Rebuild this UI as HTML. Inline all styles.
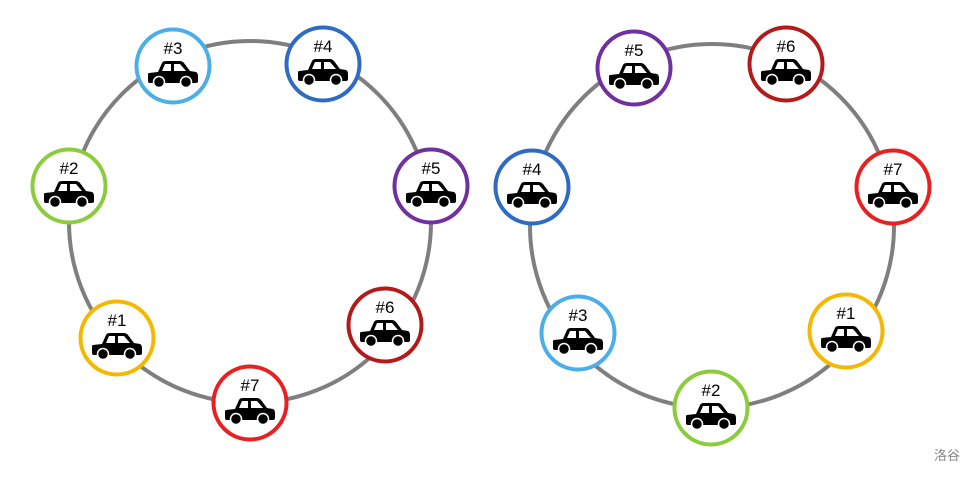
<!DOCTYPE html>
<html><head><meta charset="utf-8"><style>
html,body{margin:0;padding:0;background:#fff;}
svg{display:block;}
text{font-family:"Liberation Sans","Noto Sans CJK SC",sans-serif;}
</style></head><body>
<svg width="977" height="477" viewBox="0 0 977 477" xmlns="http://www.w3.org/2000/svg">
<defs>
<g id="car">
<path d="M2,12 L11,11 L15,2 Q16,0 19,0 L33,0 Q35,0 37,2 L43,10 L49,11 Q51,12 51,15 L51,20 Q51,22 49,22 L3,22 Q1,22 1,20 L1,14 Q1,12 2,12 Z" fill="#000"/>
<path d="M18,3 L24,3 L24,10 L15,10 Z" fill="#fff"/>
<path d="M27,3 L33,3 L39,10 L27,10 Z" fill="#fff"/>
<circle cx="12" cy="21" r="5.5" fill="#000" stroke="#fff" stroke-width="1.5"/>
<circle cx="39" cy="21" r="5.5" fill="#000" stroke="#fff" stroke-width="1.5"/>
</g>
</defs>
<circle cx="250" cy="222" r="181" fill="none" stroke="#7f7f7f" stroke-width="4"/>
<circle cx="712" cy="226" r="182" fill="none" stroke="#7f7f7f" stroke-width="4"/>
<g transform="translate(173,66)"><circle r="36.5" fill="#fff" stroke="#4baee8" stroke-width="4"/><text x="0" y="-12" font-size="17" text-anchor="middle">#3</text><use href="#car" x="-26" y="-5"/></g>
<g transform="translate(323,64)"><circle r="36.5" fill="#fff" stroke="#2e6bc4" stroke-width="4"/><text x="0" y="-12" font-size="17" text-anchor="middle">#4</text><use href="#car" x="-26" y="-5"/></g>
<g transform="translate(431,186)"><circle r="36.5" fill="#fff" stroke="#7030a0" stroke-width="4"/><text x="0" y="-12" font-size="17" text-anchor="middle">#5</text><use href="#car" x="-26" y="-5"/></g>
<g transform="translate(385,325)"><circle r="36.5" fill="#fff" stroke="#b31b1b" stroke-width="4"/><text x="0" y="-12" font-size="17" text-anchor="middle">#6</text><use href="#car" x="-26" y="-5"/></g>
<g transform="translate(250,403)"><circle r="36.5" fill="#fff" stroke="#e82020" stroke-width="4"/><text x="0" y="-12" font-size="17" text-anchor="middle">#7</text><use href="#car" x="-26" y="-5"/></g>
<g transform="translate(117,338)"><circle r="36.5" fill="#fff" stroke="#f5b800" stroke-width="4"/><text x="0" y="-12" font-size="17" text-anchor="middle">#1</text><use href="#car" x="-26" y="-5"/></g>
<g transform="translate(69,186)"><circle r="36.5" fill="#fff" stroke="#8ccc3c" stroke-width="4"/><text x="0" y="-12" font-size="17" text-anchor="middle">#2</text><use href="#car" x="-26" y="-5"/></g>
<g transform="translate(634,68)"><circle r="36.5" fill="#fff" stroke="#7030a0" stroke-width="4"/><text x="0" y="-12" font-size="17" text-anchor="middle">#5</text><use href="#car" x="-26" y="-5"/></g>
<g transform="translate(786,64)"><circle r="36.5" fill="#fff" stroke="#b31b1b" stroke-width="4"/><text x="0" y="-12" font-size="17" text-anchor="middle">#6</text><use href="#car" x="-26" y="-5"/></g>
<g transform="translate(893,187)"><circle r="36.5" fill="#fff" stroke="#e82020" stroke-width="4"/><text x="0" y="-12" font-size="17" text-anchor="middle">#7</text><use href="#car" x="-26" y="-5"/></g>
<g transform="translate(846,331)"><circle r="36.5" fill="#fff" stroke="#f5b800" stroke-width="4"/><text x="0" y="-12" font-size="17" text-anchor="middle">#1</text><use href="#car" x="-26" y="-5"/></g>
<g transform="translate(711,408)"><circle r="36.5" fill="#fff" stroke="#8ccc3c" stroke-width="4"/><text x="0" y="-12" font-size="17" text-anchor="middle">#2</text><use href="#car" x="-26" y="-5"/></g>
<g transform="translate(578,333)"><circle r="36.5" fill="#fff" stroke="#4baee8" stroke-width="4"/><text x="0" y="-12" font-size="17" text-anchor="middle">#3</text><use href="#car" x="-26" y="-5"/></g>
<g transform="translate(532,187)"><circle r="36.5" fill="#fff" stroke="#2e6bc4" stroke-width="4"/><text x="0" y="-12" font-size="17" text-anchor="middle">#4</text><use href="#car" x="-26" y="-5"/></g>
<text x="947" y="460" font-size="13" fill="#888" text-anchor="middle">洛谷</text>
</svg>
</body></html>
